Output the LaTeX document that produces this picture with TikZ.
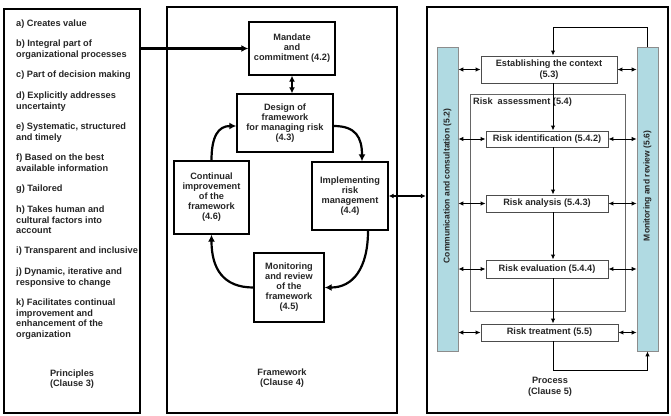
\documentclass[tikz,border=0pt]{standalone}
\usepackage{fontspec}
\setmainfont{Liberation Sans}
\usetikzlibrary{arrows.meta,calc}
\definecolor{barblue}{RGB}{176,218,226}
\begin{document}
\begin{tikzpicture}[x=1pt,y=-1pt,
  txt/.style={font=\bfseries\fontsize{9.2}{10.5}\selectfont, text=black!85},
  item/.style={txt, anchor=north west, align=left, inner sep=0},
  panel/.style={draw, inner sep=0},
  fbox/.style={draw, line width=1.4pt, align=center, inner sep=0, font=\bfseries\fontsize{9.2}{10}\selectfont, text=black!85},
  pbox/.style={draw=black!70, line width=0.9pt, fill=white, txt, align=center, inner sep=0},
  bar/.style={draw=black!45, fill=barblue, line width=0.7pt, minimum width=21pt, minimum height=304pt, inner sep=0},
  bartext/.style={font=\bfseries\fontsize{8.5}{10}\selectfont, text=black!85, rotate=90, inner sep=0},
  label/.style={txt, align=center, inner sep=0},
  bigarrow/.style={line width=2.2pt, -{Latex[length=7pt,width=7pt]}},
  bigdbl/.style={line width=2.2pt, {Latex[length=6pt,width=6pt]}-{Latex[length=6pt,width=6pt]}},
  middbl/.style={line width=1.3pt, {Latex[length=5pt,width=5pt]}-{Latex[length=5pt,width=5pt]}},
  smallarrow/.style={line width=1pt, -{Latex[length=5pt,width=4.5pt]}},
  smalldbl/.style={line width=1pt, {Latex[length=5pt,width=4.5pt]}-{Latex[length=5pt,width=4.5pt]}}
]
\useasboundingbox (0,0) rectangle (671,415);
\fill[white] (0,0) rectangle (671,415);

% Panels
\node[panel, line width=2.5pt, minimum width=136pt, minimum height=404pt] (princ) at (72,211) {};
\node[panel, line width=1.3pt, minimum width=230pt, minimum height=406pt] (frame) at (282,210) {};
\node[panel, line width=2.5pt, minimum width=241pt, minimum height=406pt] (proc) at (547.5,210) {};

% Principles
\node[item] (pa) at (16,19.5) {a) Creates value};
\node[item] (pb) at (16,40) {b) Integral part of\\organizational processes};
\node[item] (pc) at (16,71) {c) Part of decision making};
\node[item] (pd) at (16,92) {d) Explicitly addresses\\uncertainty};
\node[item] (pe) at (16,123) {e) Systematic, structured\\and timely};
\node[item] (pf) at (16,154) {f) Based on the best\\available information};
\node[item] (pg) at (16,185) {g) Tailored};
\node[item] (ph) at (16,206) {h) Takes human and\\cultural factors into\\account};
\node[item] (pi) at (16,247) {i) Transparent and inclusive};
\node[item] (pj) at (16,268) {j) Dynamic, iterative and\\responsive to change};
\node[item] (pk) at (16,299) {k) Facilitates continual\\improvement and\\enhancement of the\\organization};
\node[label] (plab) at (72,379) {Principles\\(Clause 3)};

% Framework
\node[fbox, minimum width=86pt, minimum height=53pt] (mandate) at (292,48.5) {Mandate\\and\\commitment (4.2)};
\node[fbox, minimum width=96pt, minimum height=58pt] (design) at (285,123) {Design of\\framework\\for managing risk\\(4.3)};
\node[fbox, minimum width=75pt, minimum height=73pt] (contin) at (211.5,197.5) {Continual\\improvement\\of the\\framework\\(4.6)};
\node[fbox, minimum width=76pt, minimum height=68pt] (implem) at (350,196) {Implementing\\risk\\management\\(4.4)};
\node[fbox, minimum width=70pt, minimum height=69pt] (monfw) at (289,287.5) {Monitoring\\and review\\of the\\framework\\(4.5)};
\node[label] (flab) at (282,378) {Framework\\(Clause 4)};

\draw[bigarrow] (princ.east |- mandate.west) -- (mandate.west);
\draw[bigdbl] (mandate.south) -- (mandate.south |- design.north);
\draw[bigarrow] ($(design.east)+(0,3)$) .. controls +(22,0) and +(0,-24) .. ($(implem.north)+(12,0)$);
\draw[bigarrow] ($(implem.south)+(18,0)$) .. controls +(0,38) and +(28,0) .. (monfw.east);
\draw[bigarrow] (monfw.west) .. controls +(-30,0) and +(0,34) .. (contin.south);
\draw[bigarrow] (contin.north) .. controls +(0,-24) and +(-18,0) .. ($(design.west)+(0,3)$);
\draw[middbl] (implem.east) -- (proc.west |- implem.east);

% Process
\node[bar] (comm) at (447.5,199) {};
\node[bar] (monrev) at (647.5,199) {};
\node[bartext] (commtxt) at (447.5,186) {Communication and consultation (5.2)};
\node[bartext] (montxt) at (647.5,186) {Monitoring and review (5.6)};

\draw[draw=black!60, line width=0.9pt] (470,94) rectangle (625,311);
\node[txt, anchor=north west, inner sep=0] (assess) at (473,98) {Risk\ \ assessment (5.4)};

\node[pbox, minimum width=136pt, minimum height=27pt] (estab) at (549,69.5) {Establishing the context\\(5.3)};
\node[pbox, minimum width=122pt, minimum height=16pt] (ident) at (547,139) {Risk identification (5.4.2)};
\node[pbox, minimum width=122pt, minimum height=17pt] (analy) at (547,203.5) {Risk analysis (5.4.3)};
\node[pbox, minimum width=122pt, minimum height=18pt] (evalu) at (547,269) {Risk evaluation (5.4.4)};
\node[pbox, minimum width=137pt, minimum height=17pt] (treat) at (549.5,332.5) {Risk treatment (5.5)};
\node[label] (prlab) at (550,387) {Process\\(Clause 5)};

\coordinate (fx) at (553,0);
\coordinate (toploop) at (553,27);
\coordinate (botloop) at (553,370);

\draw[smallarrow] (fx |- estab.south) -- (fx |- ident.north);
\draw[smallarrow] (fx |- ident.south) -- (fx |- analy.north);
\draw[smallarrow] (fx |- analy.south) -- (fx |- evalu.north);
\draw[smallarrow] (fx |- evalu.south) -- (fx |- treat.north);
\draw[smallarrow] (monrev.north) |- (toploop) -- (fx |- estab.north);
\draw[smallarrow] (fx |- treat.south) -- (botloop) -| (monrev.south);

\foreach \b in {estab,ident,analy,evalu,treat}{
  \draw[smalldbl] (comm.east |- \b.west) -- (\b.west);
  \draw[smalldbl] (\b.east) -- (monrev.west |- \b.east);
}
\end{tikzpicture}
\end{document}
